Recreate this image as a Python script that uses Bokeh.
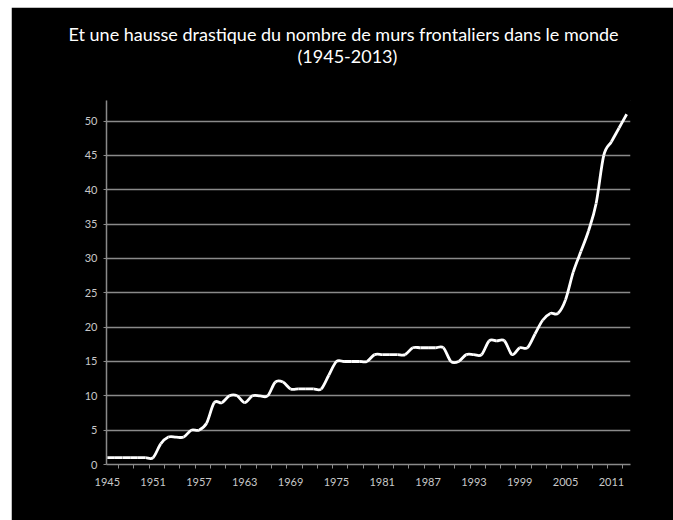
from bokeh.plotting import figure
from bokeh.models import FixedTicker, Title, ColumnDataSource, Range1d
from bokeh.embed import file_html
from bokeh.resources import INLINE

years = list(range(1945, 2014))
walls = [1, 1, 1, 1, 1, 1, 1,            # 1945-1951
         3, 4, 4, 4, 5, 5, 6, 9, 9,      # 1952-1960
         10, 10, 9, 10, 10, 10, 12, 12,  # 1961-1968
         11, 11, 11, 11, 11, 13,         # 1969-1974
         15, 15, 15, 15, 15,             # 1975-1979
         16, 16, 16, 16, 16,             # 1980-1984
         17, 17, 17, 17, 17,             # 1985-1989
         15, 15, 16, 16, 16,             # 1990-1994
         18, 18, 18, 16, 17, 17,         # 1995-2000
         19, 21, 22, 22, 24,             # 2001-2005
         28, 31, 34, 38, 45, 47, 49, 51] # 2006-2013
label_years = [1945, 1951, 1957, 1963, 1969, 1975, 1981, 1987, 1993, 1999, 2005, 2011]
y_ticks = [0, 5, 10, 15, 20, 25, 30, 35, 40, 45, 50]
title_line1 = "Et une hausse drastique du nombre de murs frontaliers dans le monde"
title_line2 = "(1945-2013)"

FONT = "Lato"
TFONT = "Lato"
GRID = "#8a8a8a"
TICK_TXT = "#c8c8c8"

p = figure(width=662, height=513, output_backend="svg", toolbar_location=None,
           x_range=Range1d(1944.9, 2013.5), y_range=Range1d(0, 53),
           background_fill_color="black", border_fill_color="black",
           min_border_left=95, min_border_right=43, min_border_bottom=56,
           min_border_top=93)
p.outline_line_color = "black"
p.margin = (7, 0, 0, 11)
p.title.visible = False

# spacer panel just above the frame, then the two title lines
spacer = Title(text=" ", text_font=TFONT, text_font_size="10px", text_color="black", standoff=19.5)
t2 = Title(text=title_line2, align="left", offset=191, text_color="white",
           text_font=TFONT, text_font_size="18px", text_font_style="normal", standoff=0)
t1 = Title(text=title_line1, align="left", offset=-38, text_color="white",
           text_font=TFONT, text_font_size="18px", text_font_style="normal", standoff=-4)
p.add_layout(spacer, "above")
p.add_layout(t2, "above")
p.add_layout(t1, "above")

# smooth line (Excel-like) as cubic bezier segments computed from the data
n = len(years)
x0, y0, x1, y1, cx0, cy0, cx1, cy1 = [], [], [], [], [], [], [], []
for i in range(n - 1):
    pm = i - 1 if i > 0 else i
    pp = i + 2 if i + 2 < n else i + 1
    x0.append(years[i]); y0.append(walls[i])
    x1.append(years[i + 1]); y1.append(walls[i + 1])
    cx0.append(years[i] + (years[i + 1] - years[pm]) / 6.0)
    cy0.append(walls[i] + (walls[i + 1] - walls[pm]) / 6.0)
    cx1.append(years[i + 1] - (years[pp] - years[i]) / 6.0)
    cy1.append(walls[i + 1] - (walls[pp] - walls[i]) / 6.0)
src = ColumnDataSource(dict(x0=x0, y0=y0, x1=x1, y1=y1, cx0=cx0, cy0=cy0, cx1=cx1, cy1=cy1))
p.bezier(x0="x0", y0="y0", x1="x1", y1="y1", cx0="cx0", cy0="cy0", cx1="cx1", cy1="cy1",
         source=src, line_color="white", line_width=2.8)

# axes
minor = [y + 1.5 for y in range(1945, 2012, 2)]
p.xaxis.ticker = FixedTicker(ticks=label_years, minor_ticks=minor)
p.xaxis.major_tick_line_color = None
p.xaxis.minor_tick_line_color = GRID
p.xaxis.minor_tick_in = 0
p.xaxis.minor_tick_out = 4
p.xaxis.axis_line_color = GRID
p.xaxis.axis_line_width = 1.5
p.xaxis.major_label_text_color = TICK_TXT
p.xaxis.major_label_text_font = FONT
p.xaxis.major_label_text_font_size = "11px"
p.xaxis.major_label_standoff = 7

p.yaxis.ticker = FixedTicker(ticks=y_ticks)
p.yaxis.minor_tick_line_color = None
p.yaxis.major_tick_line_color = GRID
p.yaxis.major_tick_in = 0
p.yaxis.major_tick_out = 3
p.yaxis.axis_line_color = GRID
p.yaxis.axis_line_width = 1.5
p.yaxis.major_label_text_color = TICK_TXT
p.yaxis.major_label_text_font = FONT
p.yaxis.major_label_text_font_size = "11px"
p.yaxis.major_label_standoff = 6

p.xgrid.grid_line_color = None
p.ygrid.ticker = FixedTicker(ticks=y_ticks[1:])
p.ygrid.grid_line_color = GRID
p.ygrid.grid_line_width = 1.5

open("out.html", "w").write(file_html(p, INLINE))
